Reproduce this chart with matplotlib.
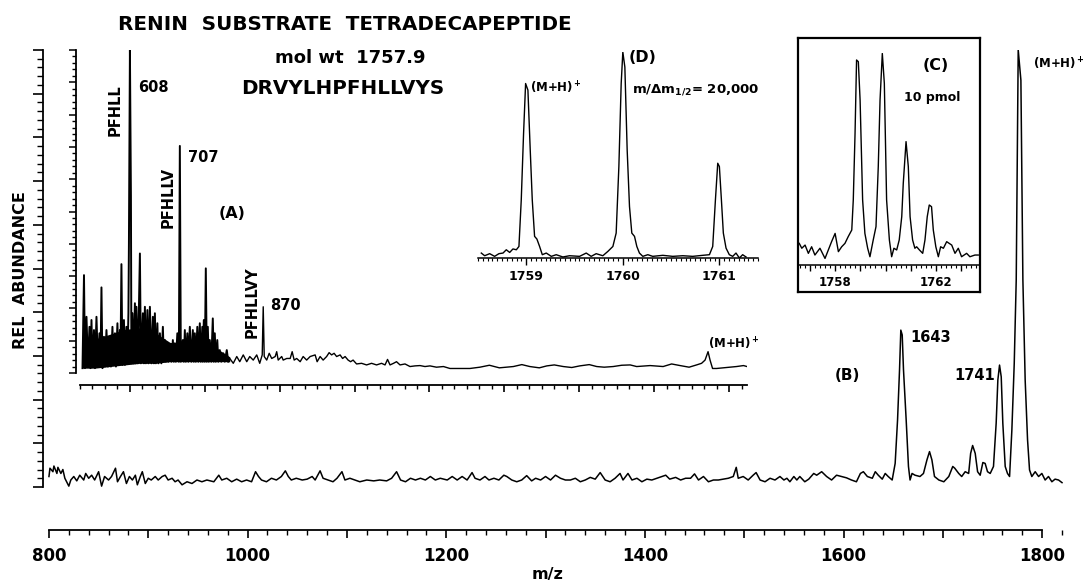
import matplotlib

matplotlib.use("Agg")

import matplotlib.pyplot as plt
from matplotlib.ticker import FuncFormatter, MultipleLocator, NullLocator

W, H = 1083, 581

# ---- spectrum (B): full scan 800-1800 ----
b_mz_1 = [800, 801, 804, 805, 808, 809, 812, 814, 816, 820, 822, 825, 828, 831, 835, 837, 840, 843, 846, 850,
          853, 856, 860, 863, 867, 869, 872, 875, 878, 881, 884, 887, 889, 892, 894, 897, 900, 903, 907, 910,
          914, 917, 920, 924, 927, 930, 934, 939, 944, 949, 954, 959, 966, 971, 974, 979, 984, 989, 994, 999,
          1004, 1008, 1011, 1014, 1019, 1024, 1029, 1034, 1038, 1041, 1044, 1049, 1055, 1060, 1065, 1068, 1073,
          1076, 1081, 1086, 1090, 1095, 1098, 1103, 1108, 1113, 1120, 1127, 1133, 1140, 1145, 1150, 1154, 1159,
          1164, 1169, 1174, 1179, 1184, 1189, 1194, 1201, 1206, 1211, 1216, 1221, 1226, 1229, 1234, 1239, 1243,
          1248, 1253, 1258, 1261, 1266, 1271, 1276, 1281, 1286, 1290]
b_rel_1 = [2.4, 4.3, 3.5, 4.8, 3.1, 4.5, 3.1, 4.0, 2.0, 0.2, 1.6, 2.4, 1.4, 2.7, 1.6, 3.1, 2.0, 2.7, 1.6, 3.5,
           0.2, 2.4, 1.6, 2.4, 4.3, 1.2, 2.4, 3.5, 0.8, 2.4, 1.6, 2.7, 0.5, 2.4, 3.5, 0.8, 2.0, 1.6, 2.4, 1.6,
           2.4, 2.7, 1.6, 2.0, 1.2, 1.6, 0.5, 1.2, 0.8, 1.6, 1.2, 1.6, 1.2, 2.7, 1.6, 2.0, 1.2, 1.8, 1.2, 1.6,
           1.2, 3.5, 2.4, 1.6, 1.2, 2.0, 1.6, 2.4, 3.7, 2.4, 1.6, 2.0, 1.6, 1.8, 2.4, 1.6, 3.7, 2.0, 1.6, 1.2,
           2.0, 3.5, 1.6, 2.0, 1.6, 1.2, 1.6, 1.4, 1.6, 1.4, 2.0, 3.5, 1.6, 1.2, 2.0, 1.6, 2.0, 1.6, 2.4, 1.6,
           2.0, 1.6, 2.4, 1.6, 2.4, 1.6, 3.3, 2.0, 1.6, 2.4, 1.6, 2.0, 1.6, 2.7, 2.4, 1.6, 1.2, 1.6, 2.6, 1.4,
           2.0]
b_mz_2 = [1295, 1300, 1305, 1310, 1315, 1320, 1325, 1330, 1335, 1340, 1345, 1350, 1355, 1360, 1365, 1370,
          1375, 1378, 1383, 1387, 1392, 1397, 1402, 1407, 1412, 1417, 1421, 1425, 1431, 1436, 1441, 1446, 1450,
          1454, 1459, 1464, 1469, 1474, 1479, 1484, 1489, 1492, 1494, 1499, 1504, 1509, 1512, 1516, 1521, 1526,
          1531]
b_rel_2 = [1.6, 2.4, 1.6, 2.7, 2.0, 1.6, 1.6, 2.0, 1.2, 1.6, 2.2, 1.8, 3.3, 1.6, 1.2, 2.0, 3.1, 1.6, 3.1, 1.6,
           2.0, 1.2, 1.8, 1.6, 2.0, 2.4, 2.7, 1.8, 2.2, 1.6, 2.0, 2.0, 3.0, 1.6, 2.4, 1.2, 1.6, 1.6, 1.8, 2.0,
           2.4, 4.5, 2.0, 2.4, 1.6, 2.7, 3.3, 1.6, 1.2, 2.0, 1.6]
b_mz_3 = [1536, 1540, 1543, 1546, 1550, 1553, 1556, 1561, 1565, 1570, 1573, 1578, 1583, 1588, 1593, 1598,
          1603, 1608, 1613, 1617, 1620, 1624, 1629, 1632, 1635, 1639, 1642, 1645, 1649, 1652, 1654.4, 1656.4,
          1657.7, 1659.1, 1660.4, 1663.1, 1665.4, 1667, 1669, 1672, 1677, 1680.5, 1684, 1686.6, 1689, 1691.6,
          1696, 1701, 1706, 1710, 1712, 1716, 1719, 1722.5, 1726, 1728, 1730, 1732.6, 1735, 1737.6, 1740.3,
          1742.6, 1745, 1747.7, 1751, 1753.7, 1755.4, 1757.1, 1758.8, 1760.4, 1762.8, 1765.1, 1767.2, 1769.5,
          1771.9, 1773.9, 1775.9, 1778.6, 1780.6, 1782.9, 1785.3, 1787.3, 1789.6, 1793, 1796.4, 1799.7, 1803,
          1806.4, 1809.8, 1813, 1816.5, 1820]
b_rel_3 = [2.4, 1.6, 2.0, 1.2, 2.4, 1.6, 2.4, 1.2, 1.8, 3.1, 2.7, 3.5, 2.4, 1.6, 2.7, 2.4, 2.1, 1.6, 1.2, 3.1,
           3.5, 2.4, 2.0, 3.5, 2.7, 1.8, 3.1, 2.4, 1.6, 5.4, 15.3, 26.8, 35.9, 34.8, 26.8, 15.3, 4.7, 1.6, 3.1,
           2.7, 2.4, 3.1, 6.2, 8.1, 6.2, 2.4, 1.6, 1.2, 2.4, 4.7, 4.3, 3.1, 2.4, 3.5, 3.1, 7.7, 9.5, 7.7, 3.5,
           2.7, 5.6, 5.4, 3.5, 3.1, 4.7, 14.6, 24.5, 27.9, 25.2, 14.6, 4.7, 3.1, 2.4, 13.0, 28.3, 47.4, 100.0,
           93.1, 47.4, 24.5, 10.8, 3.9, 2.4, 3.5, 2.4, 3.1, 1.6, 2.4, 1.2, 1.8, 1.6, 1.0]

# ---- spectrum (A): 500-1840 ----
a_mz_1 = [505, 508, 510, 513, 516, 519, 521, 523, 525, 528, 530, 533, 536, 539, 541, 543, 545, 548, 550, 553,
          556, 560, 562, 565, 567, 570, 572, 575, 577, 580, 581, 583, 585, 588, 590, 593, 595, 597, 598, 600,
          602, 603, 605, 607, 610, 611, 613, 616, 620, 622, 626, 628, 630, 632, 635, 637, 640, 643, 646, 648,
          650, 652, 655, 657, 660, 663, 666, 668, 670, 672, 675, 677, 680, 683, 686, 688, 690, 692, 695, 698,
          700, 702, 706, 708, 710, 712, 715, 717, 720, 723, 726, 728, 730, 732, 735, 737, 740, 742, 745, 746,
          748, 750, 752, 754, 756, 758, 760, 763, 766, 768, 770, 772, 775, 777, 780, 783, 787, 790, 794, 797]
a_rel_1 = [1.5, 30.3, 1.5, 17.4, 2.0, 14.3, 1.5, 16.4, 2.0, 13.3, 1.5, 17.4, 2.0, 12.3, 2.0, 26.5, 1.5, 11.2,
           2.0, 13.3, 2.0, 11.2, 2.0, 14.3, 2.5, 12.3, 2.0, 15.4, 2.5, 13.3, 3.0, 33.7, 2.5, 16.4, 2.5, 14.3,
           3.0, 18.5, 40.0, 100.0, 55.0, 3.0, 18.5, 3.0, 21.6, 3.0, 20.5, 3.0, 37.0, 3.0, 18.5, 3.0, 20.5, 3.0,
           19.5, 3.0, 20.5, 3.0, 17.4, 3.0, 18.5, 3.0, 15.4, 3.0, 12.3, 3.0, 14.3, 3.5, 10.2, 3.5, 8.2, 3.5,
           7.1, 3.5, 10.2, 3.5, 9.2, 3.5, 12.3, 3.5, 70.3, 3.5, 10.2, 3.5, 13.3, 3.5, 12.3, 3.5, 14.3, 3.5,
           13.3, 3.5, 12.3, 3.5, 14.3, 3.5, 15.4, 3.5, 14.3, 3.5, 16.4, 3.5, 32.4, 3.5, 14.3, 3.5, 10.2, 3.5,
           16.9, 3.5, 12.3, 3.5, 10.2, 3.5, 7.1, 3.5, 6.1, 3.5, 7.1, 3.5]
a_mz_2 = [800, 807, 814, 820, 827, 834, 840, 847, 854, 860, 865, 867, 869, 874, 879, 884, 891, 894, 897, 904,
          907, 914, 921, 925, 929, 934, 941, 947, 954, 961, 971, 975, 981, 987, 994, 999, 1004, 1009, 1014,
          1021, 1026, 1031, 1037, 1042, 1047, 1054, 1064, 1074, 1084, 1094, 1104, 1111, 1116, 1121, 1128, 1134,
          1141, 1151, 1161, 1171, 1181, 1191, 1201, 1214, 1228, 1241, 1254, 1268, 1281, 1301, 1320, 1340, 1368,
          1385, 1401, 1420, 1435, 1450, 1468, 1485, 1501, 1520, 1535, 1550, 1568, 1585, 1602, 1615, 1642, 1668,
          1685, 1702, 1720, 1735, 1745, 1752, 1758, 1762, 1767, 1775, 1795, 1815, 1829, 1836]
a_rel_2 = [4.5, 3.0, 5.1, 3.5, 5.6, 3.5, 5.1, 4.0, 5.6, 3.0, 5.6, 20.5, 5.1, 4.0, 6.1, 4.5, 5.1, 6.6, 4.0, 5.1,
           4.0, 4.5, 4.5, 6.6, 4.0, 4.5, 3.5, 5.1, 4.0, 5.1, 5.6, 3.5, 5.1, 4.0, 5.1, 6.3, 5.6, 6.1, 5.1, 5.6,
           4.5, 5.1, 4.0, 3.5, 4.0, 2.8, 3.0, 2.5, 3.0, 2.5, 3.0, 2.5, 4.2, 2.5, 3.0, 3.5, 2.5, 2.8, 2.0, 2.2,
           2.3, 2.0, 2.2, 1.8, 2.0, 1.4, 1.4, 1.4, 1.4, 1.8, 2.4, 1.6, 2.0, 2.6, 2.0, 1.6, 2.2, 2.5, 2.0, 1.7,
           2.2, 2.6, 2.0, 1.8, 2.0, 2.4, 2.5, 2.0, 2.3, 2.0, 2.8, 2.3, 1.8, 2.5, 3.0, 4.0, 6.6, 4.0, 1.4, 1.4,
           1.7, 2.0, 2.3, 2.0]
# solid core of the low-mass fragment forest
a_core_mz = [505, 530, 560, 590, 620, 650, 680, 700, 730, 760, 780, 800]
a_core_top = [9.0, 10.5, 12.0, 13.5, 14.0, 12.5, 9.5, 9.0, 10.0, 9.5, 7.0, 5.0]
a_core_low = [1.5, 1.5, 2.0, 2.5, 3.0, 3.0, 3.5, 3.5, 3.5, 3.5, 3.5, 3.5]

# ---- inset (C): 10 pmol, (M+H)+ cluster ----
c_mz = [1756.58, 1756.68, 1756.81, 1756.94, 1757.07, 1757.20, 1757.40, 1757.60, 1757.86, 1758.00, 1758.13,
        1758.26, 1758.39, 1758.52, 1758.66, 1758.72, 1758.79, 1758.85, 1758.92, 1758.99, 1759.09, 1759.18,
        1759.29, 1759.38, 1759.51, 1759.62, 1759.71, 1759.78, 1759.87, 1759.95, 1760.04, 1760.15, 1760.24,
        1760.33, 1760.44, 1760.54, 1760.64, 1760.70, 1760.81, 1760.90, 1760.97, 1761.07, 1761.16, 1761.23,
        1761.34, 1761.47, 1761.56, 1761.65, 1761.73, 1761.82, 1761.89, 1761.99, 1762.09, 1762.18, 1762.29,
        1762.42, 1762.62, 1762.75, 1762.88, 1763.01, 1763.21, 1763.34, 1763.54, 1763.67]
c_rel = [10.2, 7.9, 9.4, 5.5, 8.6, 4.7, 7.9, 3.1, 11.0, 14.9, 6.3, 8.6, 10.2, 13.4, 16.5, 30.7, 62.1, 96.7,
         95.9, 77.8, 30.7, 14.9, 7.9, 3.9, 11.8, 18.1, 46.4, 77.8, 99.8, 85.7, 30.7, 11.8, 3.9, 7.9, 7.1, 11.8,
         22.8, 38.5, 58.2, 46.4, 22.8, 11.8, 7.9, 8.6, 7.1, 5.5, 11.8, 22.8, 28.3, 27.5, 16.5, 8.6, 3.9, 8.6,
         7.9, 11.0, 9.4, 5.5, 7.9, 3.9, 5.5, 3.9, 4.7, 4.7]

# ---- inset (D): high resolution, m/dm = 20,000 ----
d_mz = [1758.534, 1758.569, 1758.621, 1758.672, 1758.717, 1758.759, 1758.793, 1758.828, 1758.862, 1758.897,
        1758.924, 1758.948, 1758.972, 1758.993, 1759.017, 1759.041, 1759.062, 1759.086, 1759.110, 1759.138,
        1759.166, 1759.207, 1759.259, 1759.310, 1759.379, 1759.448, 1759.552, 1759.621, 1759.672, 1759.724,
        1759.793, 1759.845, 1759.897, 1759.931, 1759.959, 1759.983, 1760.000, 1760.021, 1760.045, 1760.069,
        1760.093, 1760.121, 1760.145, 1760.172, 1760.207, 1760.259, 1760.310, 1760.414, 1760.517, 1760.621,
        1760.724, 1760.828, 1760.897, 1760.931, 1760.959, 1760.983, 1761.000, 1761.021, 1761.041, 1761.069,
        1761.103, 1761.138, 1761.172, 1761.207, 1761.241, 1761.276]
d_rel = [2.4, 1.1, 2.1, 0.8, 2.1, 2.4, 4.0, 2.7, 4.4, 4.0, 5.6, 28.2, 60.5, 84.7, 81.5, 52.4, 28.2, 10.5, 9.2,
         5.6, 1.6, 2.4, 0.8, 1.6, 0.5, 1.1, 0.8, 2.4, 0.8, 2.1, 1.1, 3.2, 5.6, 12.1, 44.4, 84.7, 100.0, 92.7,
         52.4, 25.0, 12.1, 10.5, 5.6, 2.4, 0.8, 1.6, 0.8, 1.3, 0.8, 1.1, 0.8, 1.3, 1.6, 5.6, 28.2, 46.0, 44.4,
         28.2, 12.1, 4.8, 1.6, 0.8, 2.4, 0.0, 1.6, 0.5]

a_labels = [500, 800, 1100, 1400, 1700]
c_labels = [1758, 1762]

plt.rcParams["font.family"] = ["DejaVu Sans"]
plt.rcParams["font.weight"] = "bold"
plt.rcParams["mathtext.fontset"] = "dejavusans"
plt.rcParams["mathtext.default"] = "bf"

fig = plt.figure(figsize=(W / 100, H / 100), dpi=100)


def box(x0, y0, x1, y1):
    # pixel box (top-left origin) -> figure fraction
    return [x0 / W, 1 - y1 / H, (x1 - x0) / W, (y1 - y0) / H]


def put(x, y, s, size, **kw):
    kw.setdefault("ha", "center")
    kw.setdefault("va", "center")
    fig.text(x / W, 1 - y / H, s, fontsize=size, fontweight="bold", **kw)


def bare(ax):
    ax.set_facecolor("none")
    for side in ("top", "right", "left", "bottom"):
        ax.spines[side].set_visible(False)
        ax.spines[side].set_linewidth(1.3)


# main spectrum B
ax_b = fig.add_axes(box(43, 50, 1064, 487))
bare(ax_b)
ax_b.plot(b_mz_1 + b_mz_2 + b_mz_3, b_rel_1 + b_rel_2 + b_rel_3, color="black", lw=1.1)
ax_b.set_xlim(794, 1822)
ax_b.set_ylim(0, 100)
ax_b.spines["left"].set_visible(True)
ax_b.spines["left"].set_bounds(0, 100)
ax_b.spines["bottom"].set_visible(True)
ax_b.spines["bottom"].set_position(("outward", 31))
ax_b.spines["bottom"].set_bounds(800, 1800)
ax_b.xaxis.set_major_locator(MultipleLocator(100))
ax_b.xaxis.set_minor_locator(MultipleLocator(20))
ax_b.xaxis.set_major_formatter(FuncFormatter(lambda v, p: f"{v:.0f}" if round(v) % 200 == 0 else ""))
ax_b.yaxis.set_major_locator(MultipleLocator(10))
ax_b.yaxis.set_minor_locator(MultipleLocator(2))
ax_b.tick_params(axis="x", which="major", length=6, width=1.2, labelsize=12, pad=6)
ax_b.tick_params(axis="x", which="minor", length=3.5, width=1.0)
ax_b.tick_params(axis="y", which="major", length=7, width=1.2, labelleft=False)
ax_b.tick_params(axis="y", which="minor", length=4, width=1.0)

# inset A: full range low-mass spectrum
ax_a = fig.add_axes(box(76, 50, 747, 373))
bare(ax_a)
ax_a.fill_between(a_core_mz, a_core_low, a_core_top, color="black", lw=0)
ax_a.plot(a_mz_1, a_rel_1, color="black", lw=1.4)
ax_a.plot(a_mz_2, a_rel_2, color="black", lw=1.0)
ax_a.set_xlim(492, 1836)
ax_a.set_ylim(0, 100)
ax_a.spines["left"].set_visible(True)
ax_a.spines["left"].set_bounds(0, 100)
ax_a.spines["bottom"].set_visible(True)
ax_a.spines["bottom"].set_position(("outward", 8.6))
ax_a.spines["bottom"].set_bounds(500, 1836)
ax_a.xaxis.set_major_locator(MultipleLocator(150))
ax_a.xaxis.set_minor_locator(MultipleLocator(25))
ax_a.xaxis.set_major_formatter(FuncFormatter(lambda v, p: f"{v:.0f}" if round(v) in a_labels else ""))
ax_a.yaxis.set_major_locator(MultipleLocator(10))
ax_a.yaxis.set_minor_locator(MultipleLocator(2))
ax_a.tick_params(axis="x", which="major", length=5, width=1.2, labelsize=11.5, pad=4)
ax_a.tick_params(axis="x", which="minor", length=3, width=1.0)
ax_a.tick_params(axis="y", which="major", length=5, width=1.1, labelleft=False)
ax_a.tick_params(axis="y", which="minor", length=3, width=1.0)

# inset D: high-resolution isotope peaks
ax_d = fig.add_axes(box(478, 52, 758, 258))
bare(ax_d)
ax_d.plot(d_mz, d_rel, color="black", lw=1.0)
ax_d.set_xlim(1758.5, 1761.4)
ax_d.set_ylim(0, 100)
ax_d.spines["bottom"].set_visible(True)
ax_d.spines["bottom"].set_linewidth(1.1)
ax_d.xaxis.set_major_locator(MultipleLocator(1))
ax_d.xaxis.set_minor_locator(MultipleLocator(0.05))
ax_d.xaxis.set_major_formatter(FuncFormatter(lambda v, p: f"{v:.0f}"))
ax_d.yaxis.set_major_locator(NullLocator())
ax_d.tick_params(axis="x", which="major", length=5, width=1.0, labelsize=9, pad=4)
ax_d.tick_params(axis="x", which="minor", length=2.5, width=0.8)

# inset C: boxed 10 pmol spectrum
ax_cf = fig.add_axes(box(798, 38, 980, 292))
ax_cf.set_xticks([])
ax_cf.set_yticks([])
ax_cf.set_facecolor("white")
for side in ax_cf.spines.values():
    side.set_linewidth(1.6)
ax_c = fig.add_axes(box(798, 53, 980, 265))
bare(ax_c)
ax_c.plot(c_mz, c_rel, color="black", lw=1.0)
ax_c.set_xlim(1756.53, 1763.74)
ax_c.set_ylim(0, 100)
ax_c.spines["bottom"].set_visible(True)
ax_c.spines["bottom"].set_linewidth(1.1)
ax_c.xaxis.set_major_locator(MultipleLocator(1))
ax_c.xaxis.set_minor_locator(MultipleLocator(0.2))
ax_c.xaxis.set_major_formatter(FuncFormatter(lambda v, p: f"{v:.0f}" if round(v) in c_labels else ""))
ax_c.yaxis.set_major_locator(NullLocator())
ax_c.tick_params(axis="x", which="major", length=4, width=1.0, labelsize=8.5, pad=4)
ax_c.tick_params(axis="x", which="minor", length=2.5, width=0.8)

# lettering
put(345, 25, "RENIN  SUBSTRATE  TETRADECAPEPTIDE", 14.3)
put(350, 58, "mol wt  1757.9", 13)
put(343, 88, "DRVYLHPFHLLVYS", 14.3)
put(21, 270, "REL  ABUNDANCE", 11.5, rotation=90)
put(115, 110, "PFHLL", 10.5, rotation=90)
put(138, 87, "608", 10.5, ha="left")
put(168, 197, "PFHLLV", 10.5, rotation=90)
put(188, 157, "707", 10.5, ha="left")
put(232, 213, "(A)", 11.5)
put(252, 302, "PFHLLVY", 10.5, rotation=90)
put(270, 306, "870", 10.5, ha="left")
put(708, 344, "(M+H)$^+$", 8.5, ha="left")
put(530, 88, "(M+H)$^+$", 8.5, ha="left")
put(643, 57, "(D)", 11.5)
put(632, 90, r"m/$\Delta$m$_{1/2}$= 20,000", 9.5, ha="left")
put(936, 65, "(C)", 11.5)
put(932, 97, "10 pmol", 9)
put(1033, 64, "(M+H)$^+$", 8.5, ha="left")
put(847, 375, "(B)", 11)
put(910, 337, "1643", 10.5, ha="left")
put(975, 375, "1741", 10.5)
put(548, 575, "m/z", 11.5)

fig.savefig("out.png", dpi=100)
